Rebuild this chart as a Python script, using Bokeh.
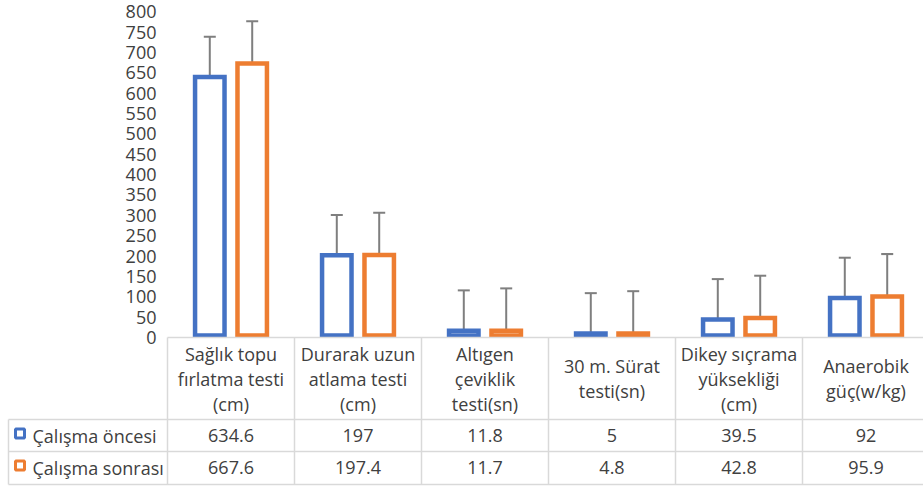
from bokeh.plotting import figure
from bokeh.models import Range1d, ColumnDataSource, Whisker, TeeHead
from bokeh.core.properties import value
from bokeh.embed import file_html
from bokeh.resources import INLINE

# ---------------- data ----------------
categories = [
    "Sağlık topu\nfırlatma testi\n(cm)",
    "Durarak uzun\natlama testi\n(cm)",
    "Altıgen\nçeviklik\ntesti(sn)",
    "30 m. Sürat\ntesti(sn)",
    "Dikey sıçrama\nyüksekliği\n(cm)",
    "Anaerobik\ngüç(w/kg)",
]
series_names = ["Çalışma öncesi", "Çalışma sonrası"]
before = [634.6, 197, 11.8, 5, 39.5, 92]
after = [667.6, 197.4, 11.7, 4.8, 42.8, 95.9]
err_before = [99, 99, 99, 99, 99, 99]
err_after = [104, 104, 104, 104, 104, 104]
y_ticks = [0, 50, 100, 150, 200, 250, 300, 350, 400, 450, 500, 550, 600, 650, 700, 750, 800]

# ---------------- style ----------------
W, H = 923, 488
FONT = "Open Sans"
FS = "18px"
TXT = "#404040"
GRID = "#D9D9D9"
BLUE = "#4472C4"
ORANGE = "#ED7D31"
ERR = "#7F7F7F"
colors = [BLUE, ORANGE]

p = figure(width=W, height=H, output_backend="svg", toolbar_location=None,
           x_axis_location=None, y_axis_location=None,
           x_range=Range1d(-167 / 127, (W - 167) / 127),
           y_range=Range1d(-375.7, 822.6),
           min_border=0, outline_line_color=None,
           background_fill_color="white", border_fill_color="white")
p.grid.visible = False
p.extra_y_ranges = {"px": Range1d(H, 0)}

n = len(categories)
centers = [i + 0.5 for i in range(n)]
offsets = [-0.167, 0.167]
bar_w = 0.232

series = [before, after]
errs = [err_before, err_after]

# bars
for s, vals in enumerate(series):
    xs = [c + offsets[s] for c in centers]
    src = ColumnDataSource(dict(x=xs, top=vals,
                                upper=[v + e for v, e in zip(vals, errs[s])],
                                lower=vals))
    p.vbar(x="x", top="top", bottom=0, width=bar_w, source=src,
           fill_color="white", line_color=colors[s], line_width=4.5,
           line_join="miter")
    wk = Whisker(base="x", upper="upper", lower="lower", source=src,
                 dimension="height", line_color=ERR, line_width=2,
                 upper_head=TeeHead(size=12, line_color=ERR, line_width=2),
                 lower_head=None)
    p.add_layout(wk)

# y tick labels
p.text(x=[-11 / 127] * len(y_ticks), y=y_ticks, text=[str(t) for t in y_ticks],
       text_align="right", text_baseline="middle", y_offset=2,
       text_font=value(FONT), text_font_size=FS, text_color=TXT)

# ---------------- data table ----------------
left = -159 / 127
y_head_top, y_head_bot, y_row1, y_row2 = 337, 419, 451, 484
right = n + 0.2

hx0 = [0, left, left, left]
hx1 = [right, right, right, right]
hy = [y_head_top, y_head_bot, y_row1, y_row2]
p.segment(x0=hx0, y0=hy, x1=hx1, y1=hy, line_color=GRID, line_width=1.5,
          y_range_name="px")
vx = [left] + list(range(n + 1))
vy0 = [y_head_bot] + [y_head_top] * (n + 1)
vy1 = [y_row2] * (n + 2)
p.segment(x0=vx, y0=vy0, x1=vx, y1=vy1, line_color=GRID, line_width=1.5,
          y_range_name="px")

# header text
hx, hyy, ht = [], [], []
for c, cat in zip(centers, categories):
    lines = cat.split("\n")
    k = len(lines)
    for j, ln in enumerate(lines):
        hx.append(c)
        hyy.append(378 + (j - (k - 1) / 2) * 25)
        ht.append(ln)
p.text(x=hx, y=hyy, text=ht, y_range_name="px", text_align="center",
       text_baseline="middle", text_font=value(FONT), text_font_size=FS,
       text_color=TXT)

# value rows
row_y = [435, 467]
for s, vals in enumerate(series):
    p.text(x=centers, y=[row_y[s]] * n, text=[f"{v:g}" for v in vals],
           y_range_name="px", text_align="center", text_baseline="middle",
           text_font=value(FONT), text_font_size=FS, text_color=TXT)
    p.scatter(x=[(19.5 - 167) / 127], y=[row_y[s] - 2], marker="square", size=9,
              fill_color="white", line_color=colors[s], line_width=3,
              y_range_name="px")
    p.text(x=[(32 - 167) / 127], y=[row_y[s]], text=[series_names[s]],
           y_range_name="px", text_align="left", text_baseline="middle",
           text_font=value(FONT), text_font_size=FS, text_color=TXT)

open("out.html", "w").write(file_html(p, INLINE))
